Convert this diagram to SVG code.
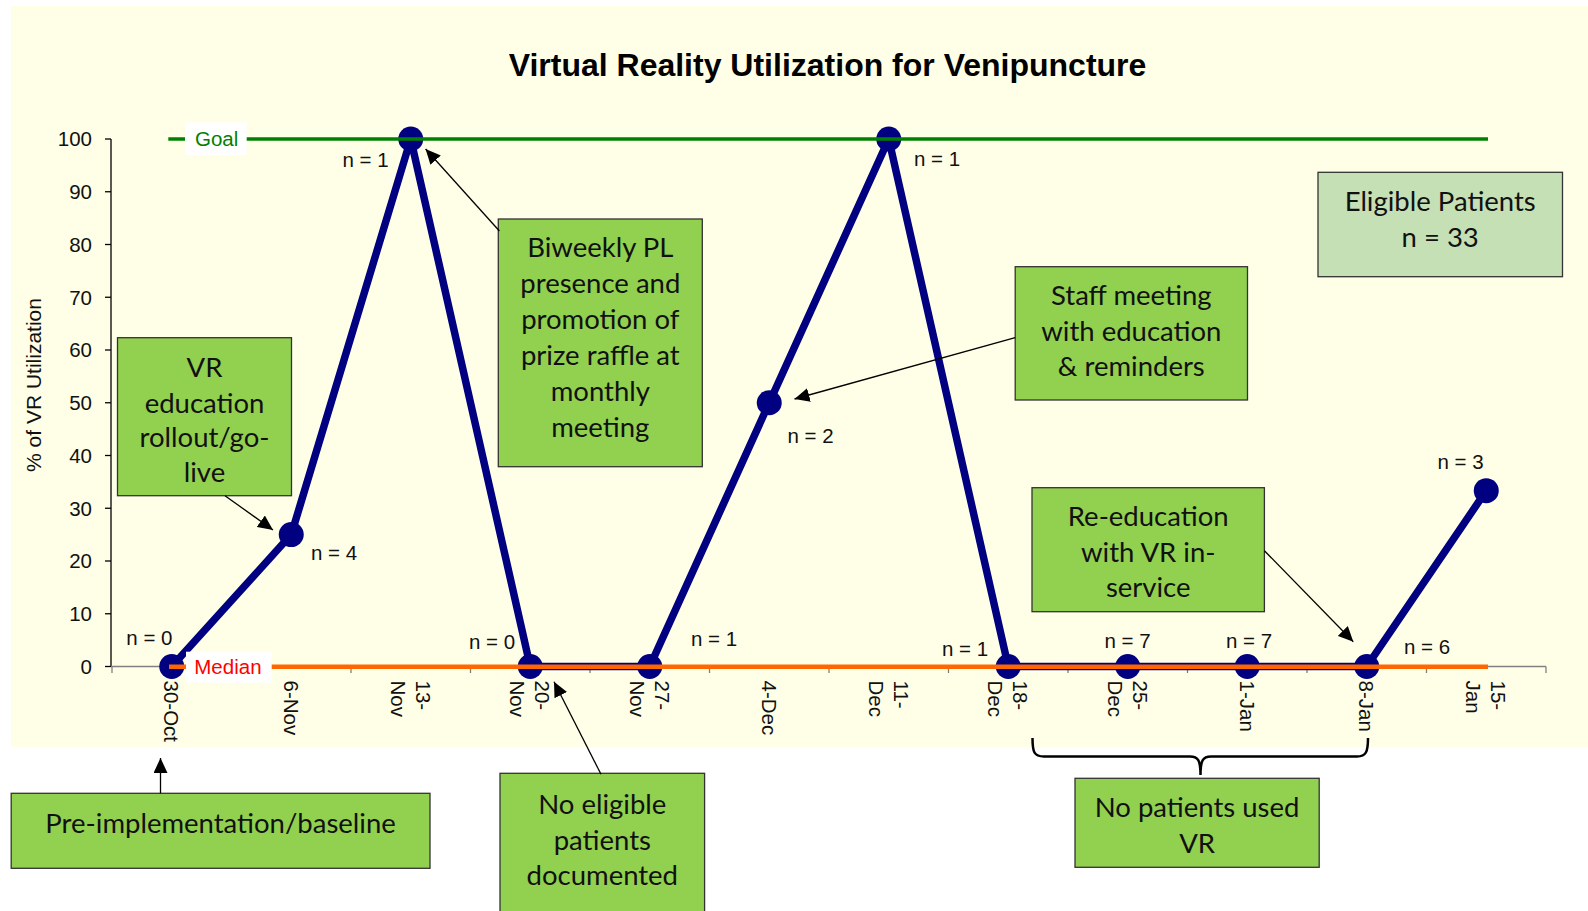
<svg xmlns="http://www.w3.org/2000/svg" width="1588" height="911" viewBox="0 0 1588 911">
  <style>
    .ax { font-family: "Liberation Sans", Arial, sans-serif; font-size: 20.5px; fill: #111; }
    .title { font-family: "Liberation Sans", Arial, sans-serif; font-size: 32px; font-weight: bold; fill: #000; }
    .note { font-family: Lato, "Open Sans", sans-serif; font-size: 27.5px; fill: #111; text-anchor: middle; }
    .box { fill: #92D050; stroke: #333; stroke-width: 1.3; }
    .box2 { fill: #C5E0B4; stroke: #333; stroke-width: 1.3; }
    .arrow { stroke: #000; stroke-width: 1.3; fill: none; marker-end: url(#head); }
    .tick { stroke: #808080; stroke-width: 1.3; }
    .ytick { stroke: #000; stroke-width: 1.3; }
    .pt { fill: #000080; }
  </style>
  <defs>
    <marker id="head" viewBox="0 0 15 14" refX="15" refY="7" markerWidth="15" markerHeight="14" markerUnits="userSpaceOnUse" orient="auto">
      <path d="M0,0 L15,7 L0,14 z" fill="#000"/>
    </marker>
  </defs>

  <!-- page and chart background -->
  <rect x="0" y="0" width="1588" height="911" fill="#fff"/>
  <rect x="11" y="6" width="1577" height="741" fill="#FFFFE8"/>

  <text class="title" x="827.5" y="76" text-anchor="middle">Virtual Reality Utilization for Venipuncture</text>

  <!-- axes -->
  <g id="axes">
    <line x1="111" y1="139" x2="111" y2="666.5" stroke="#000" stroke-width="1.3"/>
    <line x1="111" y1="666.5" x2="1546" y2="666.5" stroke="#808080" stroke-width="1.3"/>
    <g class="ytick">
      <line x1="105" y1="139" x2="111" y2="139"/>
      <line x1="105" y1="191.75" x2="111" y2="191.75"/>
      <line x1="105" y1="244.5" x2="111" y2="244.5"/>
      <line x1="105" y1="297.25" x2="111" y2="297.25"/>
      <line x1="105" y1="350" x2="111" y2="350"/>
      <line x1="105" y1="402.75" x2="111" y2="402.75"/>
      <line x1="105" y1="455.5" x2="111" y2="455.5"/>
      <line x1="105" y1="508.25" x2="111" y2="508.25"/>
      <line x1="105" y1="561" x2="111" y2="561"/>
      <line x1="105" y1="613.75" x2="111" y2="613.75"/>
      <line x1="105" y1="666.5" x2="111" y2="666.5"/>
    </g>
    <g class="ax" text-anchor="end">
      <text x="92" y="146.3">100</text>
      <text x="92" y="199">90</text>
      <text x="92" y="251.8">80</text>
      <text x="92" y="304.5">70</text>
      <text x="92" y="357.3">60</text>
      <text x="92" y="410">50</text>
      <text x="92" y="462.8">40</text>
      <text x="92" y="515.5">30</text>
      <text x="92" y="568.3">20</text>
      <text x="92" y="621">10</text>
      <text x="92" y="673.8">0</text>
    </g>
    <text class="ax" transform="translate(40.5,385) rotate(-90)" text-anchor="middle" style="font-size:21px">% of VR Utilization</text>
    <g class="tick">
      <line x1="112" y1="666.5" x2="112" y2="673"/>
      <line x1="231.5" y1="666.5" x2="231.5" y2="673"/>
      <line x1="351" y1="666.5" x2="351" y2="673"/>
      <line x1="470.5" y1="666.5" x2="470.5" y2="673"/>
      <line x1="590" y1="666.5" x2="590" y2="673"/>
      <line x1="709.5" y1="666.5" x2="709.5" y2="673"/>
      <line x1="829" y1="666.5" x2="829" y2="673"/>
      <line x1="948.5" y1="666.5" x2="948.5" y2="673"/>
      <line x1="1068" y1="666.5" x2="1068" y2="673"/>
      <line x1="1187.5" y1="666.5" x2="1187.5" y2="673"/>
      <line x1="1307" y1="666.5" x2="1307" y2="673"/>
      <line x1="1426.5" y1="666.5" x2="1426.5" y2="673"/>
      <line x1="1546" y1="666.5" x2="1546" y2="673"/>
    </g>
    <!-- category labels, rotated -->
    <g class="ax">
      <text transform="translate(171.75,680.5) rotate(90)" y="7.3">30-Oct</text>
      <text transform="translate(291.25,680.5) rotate(90)" y="7.3">6-Nov</text>
      <text transform="translate(410.75,680.5) rotate(90)"><tspan x="0" y="-5">13-</tspan><tspan x="0" y="20">Nov</tspan></text>
      <text transform="translate(530.25,680.5) rotate(90)"><tspan x="0" y="-5">20-</tspan><tspan x="0" y="20">Nov</tspan></text>
      <text transform="translate(649.75,680.5) rotate(90)"><tspan x="0" y="-5">27-</tspan><tspan x="0" y="20">Nov</tspan></text>
      <text transform="translate(769.25,680.5) rotate(90)" y="7.3">4-Dec</text>
      <text transform="translate(888.75,680.5) rotate(90)"><tspan x="0" y="-5">11-</tspan><tspan x="0" y="20">Dec</tspan></text>
      <text transform="translate(1008.25,680.5) rotate(90)"><tspan x="0" y="-5">18-</tspan><tspan x="0" y="20">Dec</tspan></text>
      <text transform="translate(1127.75,680.5) rotate(90)"><tspan x="0" y="-5">25-</tspan><tspan x="0" y="20">Dec</tspan></text>
      <text transform="translate(1247.25,680.5) rotate(90)" y="7.3">1-Jan</text>
      <text transform="translate(1366.75,680.5) rotate(90)" y="7.3">8-Jan</text>
      <text transform="translate(1486.25,680.5) rotate(90)"><tspan x="0" y="-5">15-</tspan><tspan x="0" y="20">Jan</tspan></text>
    </g>
  </g>

  <!-- utilization series -->
  <g id="series">
    <polyline points="171.75,666.5 291.25,534.6 410.75,139 530.25,666.5 649.75,666.5 769.25,402.75 888.75,139 1008.25,666.5 1127.75,666.5 1247.25,666.5 1366.75,666.5 1486.25,490.7" fill="none" stroke="#000080" stroke-width="7.5" stroke-linejoin="round"/>
    <circle class="pt" cx="171.75" cy="666.5" r="12.5"/>
    <circle class="pt" cx="291.25" cy="534.6" r="12.5"/>
    <circle class="pt" cx="410.75" cy="139" r="12.5"/>
    <circle class="pt" cx="530.25" cy="666.5" r="12.5"/>
    <circle class="pt" cx="649.75" cy="666.5" r="12.5"/>
    <circle class="pt" cx="769.25" cy="402.75" r="12.5"/>
    <circle class="pt" cx="888.75" cy="139" r="12.5"/>
    <circle class="pt" cx="1008.25" cy="666.5" r="12.5"/>
    <circle class="pt" cx="1127.75" cy="666.5" r="12.5"/>
    <circle class="pt" cx="1247.25" cy="666.5" r="12.5"/>
    <circle class="pt" cx="1366.75" cy="666.5" r="12.5"/>
    <circle class="pt" cx="1486.25" cy="490.7" r="12.5"/>
  </g>

  <!-- goal and median reference lines -->
  <g id="goal">
    <line x1="168.3" y1="139" x2="1488" y2="139" stroke="#008000" stroke-width="3.5"/>
    <rect x="185" y="122.3" width="61.7" height="32.7" fill="#fff"/>
    <text class="ax" x="195" y="146" style="fill:#008000">Goal</text>
  </g>
  <g id="median">
    <line x1="169" y1="666.7" x2="1488" y2="666.7" stroke="#FF6600" stroke-width="4.5"/>
    <rect x="186" y="651.7" width="85.7" height="31" fill="#fff"/>
    <text class="ax" x="194.3" y="674.3" style="fill:#FF0000">Median</text>
  </g>

  <!-- sample sizes -->
  <g id="counts" class="ax">
    <text x="126.3" y="645">n = 0</text>
    <text x="311" y="560">n = 4</text>
    <text x="342.5" y="166.5">n = 1</text>
    <text x="469" y="649">n = 0</text>
    <text x="691" y="645.5">n = 1</text>
    <text x="787.5" y="442.5">n = 2</text>
    <text x="914" y="165.5">n = 1</text>
    <text x="942" y="656">n = 1</text>
    <text x="1104.5" y="648">n = 7</text>
    <text x="1226" y="648">n = 7</text>
    <text x="1404" y="654">n = 6</text>
    <text x="1437.5" y="469">n = 3</text>
  </g>

  <!-- annotation boxes -->
  <g id="vr-rollout">
    <rect class="box" x="117.5" y="337.7" width="174" height="158"/>
    <text class="note"><tspan x="204.5" y="377">VR</tspan><tspan x="204.5" y="412.5">education</tspan><tspan x="204.5" y="447">rollout/go-</tspan><tspan x="204.5" y="482">live</tspan></text>
  </g>
  <g id="biweekly-pl">
    <rect class="box" x="498.3" y="219" width="204" height="247.7"/>
    <text class="note"><tspan x="600.3" y="257">Biweekly PL</tspan><tspan x="600.3" y="293">presence and</tspan><tspan x="600.3" y="329">promotion of</tspan><tspan x="600.3" y="365">prize raffle at</tspan><tspan x="600.3" y="401">monthly</tspan><tspan x="600.3" y="437">meeting</tspan></text>
  </g>
  <g id="staff-meeting">
    <rect class="box" x="1015.2" y="266.7" width="232.3" height="133.3"/>
    <text class="note"><tspan x="1131.3" y="305">Staff meeting</tspan><tspan x="1131.3" y="340.5">with education</tspan><tspan x="1131.3" y="376">&amp; reminders</tspan></text>
  </g>
  <g id="eligible-patients">
    <rect class="box2" x="1318" y="172.3" width="244.5" height="104.4"/>
    <text class="note"><tspan x="1440.2" y="210.5">Eligible Patients</tspan><tspan x="1440.2" y="246.5">n = 33</tspan></text>
  </g>
  <g id="re-education">
    <rect class="box" x="1032" y="487.7" width="232.4" height="124"/>
    <text class="note"><tspan x="1148.2" y="525.5">Re-education</tspan><tspan x="1148.2" y="561.5">with VR in-</tspan><tspan x="1148.2" y="596.5">service</tspan></text>
  </g>
  <g id="baseline">
    <rect class="box" x="11.2" y="793.3" width="418.8" height="75"/>
    <text class="note" x="220.6" y="832.5">Pre-implementation/baseline</text>
  </g>
  <g id="no-eligible">
    <rect class="box" x="500" y="773.3" width="204.6" height="150"/>
    <text class="note"><tspan x="602.3" y="813.5">No eligible</tspan><tspan x="602.3" y="849.5">patients</tspan><tspan x="602.3" y="885">documented</tspan></text>
  </g>
  <g id="no-vr-use">
    <rect class="box" x="1075" y="778.3" width="244.2" height="89"/>
    <text class="note"><tspan x="1197.1" y="816.5">No patients used</tspan><tspan x="1197.1" y="852.5">VR</tspan></text>
  </g>

  <!-- connectors -->
  <g id="connectors">
    <line class="arrow" x1="225" y1="495.7" x2="273" y2="530"/>
    <line class="arrow" x1="499.4" y1="231" x2="425.6" y2="149"/>
    <line class="arrow" x1="1015.2" y1="337.7" x2="794.5" y2="399"/>
    <line class="arrow" x1="1264.4" y1="550.7" x2="1353.3" y2="641.7"/>
    <line class="arrow" x1="601" y1="774.3" x2="554" y2="681.7"/>
    <line class="arrow" x1="160.5" y1="793.3" x2="160.5" y2="758"/>
    <path d="M1032.5,738 C1032.5,752 1034,756.5 1044,756.5 L1190,756.5 C1198,756.5 1200.5,760 1200.5,775 C1200.5,760 1203,756.5 1211,756.5 L1357,756.5 C1366,756.5 1368,752 1368,738" fill="none" stroke="#000" stroke-width="2.5"/>
  </g>
</svg>
